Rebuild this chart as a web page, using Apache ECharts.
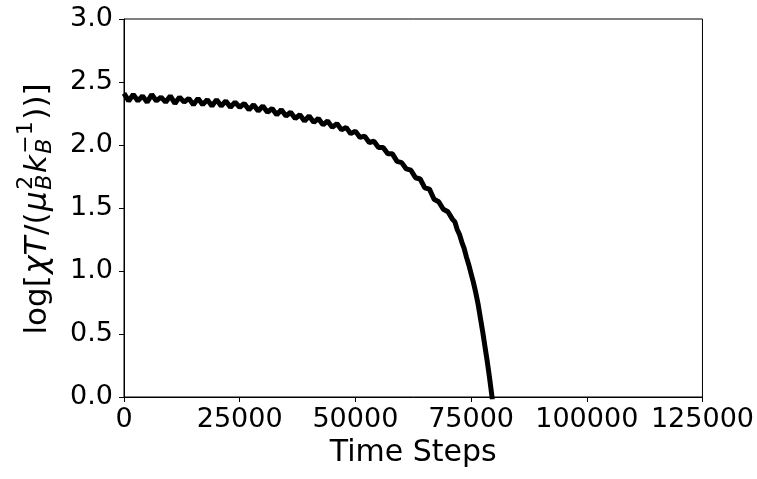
<!DOCTYPE html>
<html>
<head>
<meta charset="utf-8">
<script src="https://cdn.jsdelivr.net/npm/echarts@6/dist/echarts.min.js"></script>
<style>html,body{margin:0;padding:0;background:#fff}#c{width:757px;height:479px}</style>
</head>
<body>
<div id="c"></div>
<script>
// Time steps (x) and log[chi T] values (y)
const timeSteps = [0,1000,2000,3000,4000,5000,6000,7000,8000,9000,10000,11000,12000,13000,14000,15000,16000,17000,18000,19000,20000,21000,22000,23000,24000,25000,26000,27000,28000,29000,30000,31000,32000,33000,34000,35000,36000,37000,38000,39000,40000,41000,42000,43000,44000,45000,46000,47000,48000,49000,50000,51000,52000,53000,54000,55000,56000,57000,58000,59000,60000,61000,62000,63000,64000,65000,66000,67000,68000,69000,70000,71000,71500,72000,72500,73000,73500,74000,74500,75000,75500,76000,76500,77000,77500,78000,78500,79000,79600];
const logChiT = [2.41,2.35,2.40,2.35,2.39,2.34,2.40,2.35,2.38,2.34,2.39,2.33,2.38,2.34,2.37,2.32,2.37,2.32,2.36,2.31,2.36,2.31,2.35,2.30,2.34,2.30,2.33,2.28,2.32,2.27,2.31,2.26,2.29,2.24,2.28,2.23,2.26,2.21,2.24,2.19,2.23,2.18,2.21,2.16,2.19,2.14,2.17,2.12,2.14,2.09,2.11,2.06,2.07,2.02,2.03,1.98,1.98,1.93,1.93,1.87,1.86,1.81,1.80,1.74,1.73,1.66,1.65,1.57,1.55,1.49,1.47,1.41,1.39,1.33,1.29,1.23,1.18,1.11,1.05,0.98,0.91,0.83,0.74,0.63,0.52,0.40,0.28,0.15,-0.02];
const xTicks = [0,25000,50000,75000,100000,125000];
const yTicks = [0.0,0.5,1.0,1.5,2.0,2.5,3.0];

const FONT = 'DejaVu Sans';
const chart = echarts.init(document.getElementById('c'), null, {renderer:'canvas'});
const seriesData = timeSteps.map((t,i)=>[t, logChiT[i]]);

// build rotated y-axis label with sub/superscripts
const cv = document.createElement('canvas').getContext('2d');
function w(txt, size, italic){ cv.font = (italic?'italic ':'') + size + 'px "' + FONT + '"'; return cv.measureText(txt).width; }
const M = 31, S = 22, GAP = 1.5;
const pieces = [
  {t:'log[', s:M, i:false, dy:0, adv:true},
  {t:'χT', s:M, i:true, dy:0, adv:true},
  {t:'/(', s:M, i:false, dy:0, adv:true},
  {t:'μ', s:M, i:true, dy:0, adv:true},
  {t:'2', s:S, i:false, dy:-14, adv:false},
  {t:'B', s:S, i:true, dy:5, adv:true, w2:'2'},
  {t:'k', s:M, i:true, dy:0, adv:true},
  {t:'−1', s:S, i:false, dy:-14, adv:false},
  {t:'B', s:S, i:true, dy:5, adv:true, w2:'−1'},
  {t:'))]', s:M, i:false, dy:0, adv:true}
];
let cx = 0; const children = [];
for (const p of pieces) {
  children.push({type:'text', style:{text:p.t, x:cx, y:p.dy - 0.3*p.s, fontSize:p.s, fontFamily:FONT, fontStyle:p.i?'italic':'normal', fill:'#000', verticalAlign:'middle', align:'left'}});
  if (p.adv) {
    let ww = w(p.t, p.s, p.i);
    if (p.w2) ww = Math.max(ww, w(p.w2, p.s, false));
    cx += ww + GAP;
  }
}
const total = cx - GAP;
children.forEach(c => c.style.x -= total/2);

chart.setOption({
  animation:false,
  backgroundColor:'#fff',
  grid:{left:124, right:52, top:19, bottom:82, show:true, borderColor:'#000', borderWidth:1, backgroundColor:'transparent'},
  xAxis:{
    type:'value', min:0, max:125000, interval:25000,
    name:'Time Steps', nameLocation:'middle', nameGap:40,
    nameTextStyle:{fontSize:30, fontFamily:FONT, color:'#000'},
    axisLine:{show:true, lineStyle:{color:'#000', width:1}},
    axisTick:{show:true, inside:false, length:5, lineStyle:{color:'#000', width:1}},
    axisLabel:{fontSize:27, fontFamily:FONT, color:'#000', margin:9,
      formatter:v => xTicks.includes(v) ? String(v) : ''},
    splitLine:{show:false}
  },
  yAxis:{
    type:'value', min:0, max:3, interval:0.5,
    axisLine:{show:true, lineStyle:{color:'#000', width:1}},
    axisTick:{show:true, inside:false, length:5, lineStyle:{color:'#000', width:1}},
    axisLabel:{fontSize:27, fontFamily:FONT, color:'#000', margin:11,
      formatter:v => yTicks.some(t=>Math.abs(t-v)<1e-9) ? v.toFixed(1) : ''},
    splitLine:{show:false}
  },
  graphic:[{type:'group', x:47, y:209, rotation:Math.PI/2, children:children}],
  series:[{
    type:'line', data:seriesData, showSymbol:false, clip:true,
    lineStyle:{color:'#000', width:5}, itemStyle:{color:'#000'}
  }]
});
</script>
</body>
</html>
